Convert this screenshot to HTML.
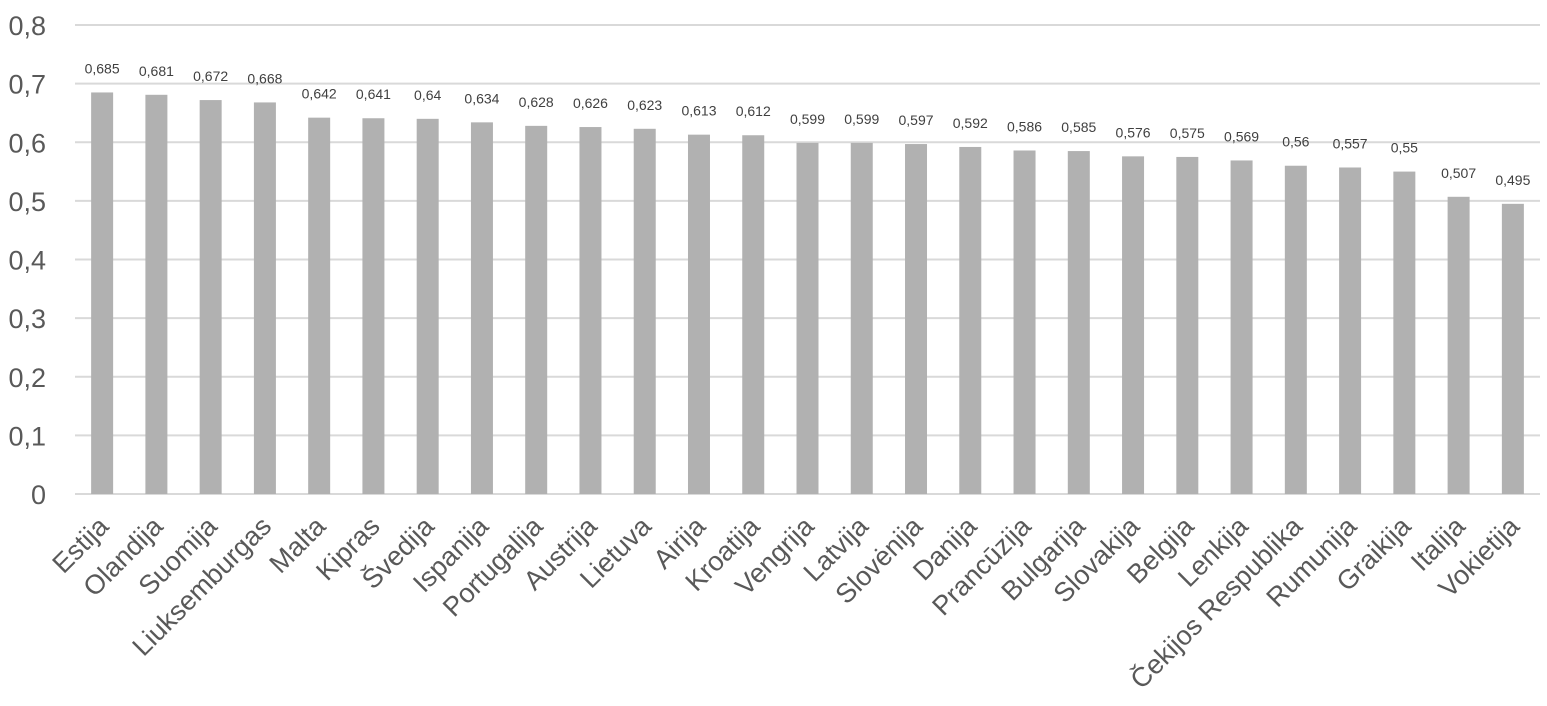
<!DOCTYPE html>
<html><head><meta charset="utf-8"><style>body{margin:0;background:#fff}svg{display:block}</style></head>
<body>
<svg width="1547" height="706" xmlns="http://www.w3.org/2000/svg" font-family="'Liberation Sans', sans-serif">
<g id="g"></g>
</svg>
<script>
const names=["Estija","Olandija","Suomija","Liuksemburgas","Malta","Kipras","Švedija","Ispanija","Portugalija","Austrija","Lietuva","Airija","Kroatija","Vengrija","Latvija","Slovėnija","Danija","Prancūzija","Bulgarija","Slovakija","Belgija","Lenkija","Čekijos Respublika","Rumunija","Graikija","Italija","Vokietija"];
const vals=[0.685,0.681,0.672,0.668,0.642,0.641,0.64,0.634,0.628,0.626,0.623,0.613,0.612,0.599,0.599,0.597,0.592,0.586,0.585,0.576,0.575,0.569,0.56,0.557,0.55,0.507,0.495];
const y0=494,step=586.2,L=75,R=1540,cw=(R-L)/27;
let s='';
for(let i=0;i<=8;i++){const y=y0-i*step/10;
s+=`<line x1="${L}" x2="${R}" y1="${y}" y2="${y}" stroke="#d9d9d9" stroke-width="2"/>`;
s+=`<text x="46" y="${y+10}" font-size="27" fill="#595959" text-anchor="end">${i==0?'0':'0,'+i}</text>`;}
vals.forEach((v,i)=>{const c=L+cw*(i+0.5),h=v*step,w=22;
s+=`<rect x="${c-w/2}" y="${y0-h}" width="${w}" height="${h}" fill="#b1b1b1"/>`;
s+=`<text x="${c}" y="${y0-h-19}" font-size="14" fill="#404040" text-anchor="middle">${String(v).replace('.',',')}</text>`;
s+=`<text transform="translate(${c+8},${528}) rotate(-45)" font-size="27" textLength="" fill="#595959" text-anchor="end">${names[i]}</text>`;});
document.getElementById('g').innerHTML=s;
</script>
</body></html>
